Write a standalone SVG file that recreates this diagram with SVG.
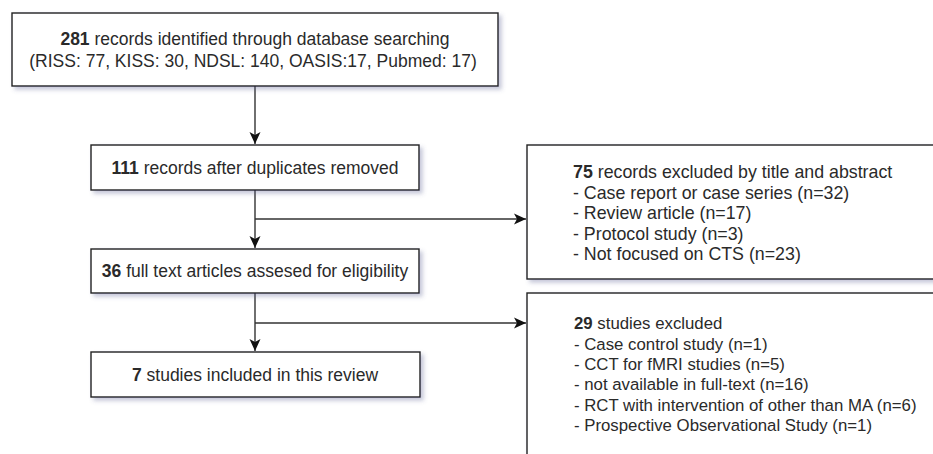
<svg xmlns="http://www.w3.org/2000/svg" width="933" height="454" viewBox="0 0 933 454">
<defs>
<filter id="sh" x="-5%" y="-10%" width="115%" height="130%">
<feDropShadow dx="3" dy="3" stdDeviation="2" flood-color="#5a6090" flood-opacity="0.35"/>
</filter>
<marker id="arr" markerWidth="13" markerHeight="13" viewBox="0 0 13 13" refX="12" refY="6.5" orient="auto" markerUnits="userSpaceOnUse">
<path d="M0,1 L12,6.5 L0,12 L3,6.5 Z" fill="#111"/>
</marker>
<style>
.box{fill:#fff;stroke:#222;stroke-width:1.4;filter:url(#sh)}
.t{font-family:"Liberation Sans",Arial,sans-serif;font-size:17.5px;fill:#2a2a2a}
.r1{font-size:17.8px}
.r2{font-size:16.8px}
.c{text-anchor:middle}
.b{font-weight:bold}
.ln{fill:none;stroke:#333;stroke-width:1.4}
</style>
</defs>
<g id="connectors">
<path class="ln" d="M255,86 V144" marker-end="url(#arr)"/>
<path class="ln" d="M255,190 V248" marker-end="url(#arr)"/>
<path class="ln" d="M255,219 H526" marker-end="url(#arr)"/>
<path class="ln" d="M255,293 V351" marker-end="url(#arr)"/>
<path class="ln" d="M255,323 H526" marker-end="url(#arr)"/>
</g>
<g id="n1">
<rect class="box" x="12" y="13" width="486" height="73"/>
<text class="t c" x="255" y="45"><tspan class="b">281</tspan> records identified through database searching</text>
<text class="t c" x="253" y="66.5">(RISS: 77, KISS: 30, NDSL: 140, OASIS:17, Pubmed: 17)</text>
</g>
<g id="n2">
<rect class="box" x="91" y="145" width="328" height="45"/>
<text class="t c" x="255" y="174"><tspan class="b">111</tspan> records after duplicates removed</text>
</g>
<g id="n3">
<rect class="box" x="91" y="249" width="328" height="44"/>
<text class="t c" x="255" y="277"><tspan class="b">36</tspan> full text articles assesed for eligibility</text>
</g>
<g id="n4">
<rect class="box" x="91" y="352" width="329" height="45"/>
<text class="t c" x="255" y="381"><tspan class="b">7</tspan> studies included in this review</text>
</g>
<g id="n5">
<rect class="box" x="527" y="145" width="430" height="134"/>
<text class="t r1" x="573" y="178"><tspan class="b">75</tspan> records excluded by title and abstract</text>
<text class="t r1" x="573" y="198.5">- Case report or case series (n=32)</text>
<text class="t r1" x="573" y="219">- Review article (n=17)</text>
<text class="t r1" x="573" y="239.5">- Protocol study (n=3)</text>
<text class="t r1" x="573" y="260">- Not focused on CTS (n=23)</text>
</g>
<g id="n6">
<rect class="box" x="527" y="293" width="430" height="200"/>
<text class="t r2" x="574" y="329"><tspan class="b">29</tspan> studies excluded</text>
<text class="t r2" x="574" y="349.5">- Case control study (n=1)</text>
<text class="t r2" x="574" y="370">- CCT for fMRI studies (n=5)</text>
<text class="t r2" x="574" y="390">- not available in full-text (n=16)</text>
<text class="t r2" x="574" y="410.5">- RCT with intervention of other than MA (n=6)</text>
<text class="t r2" x="574" y="431">- Prospective Observational Study (n=1)</text>
</g>
</svg>
